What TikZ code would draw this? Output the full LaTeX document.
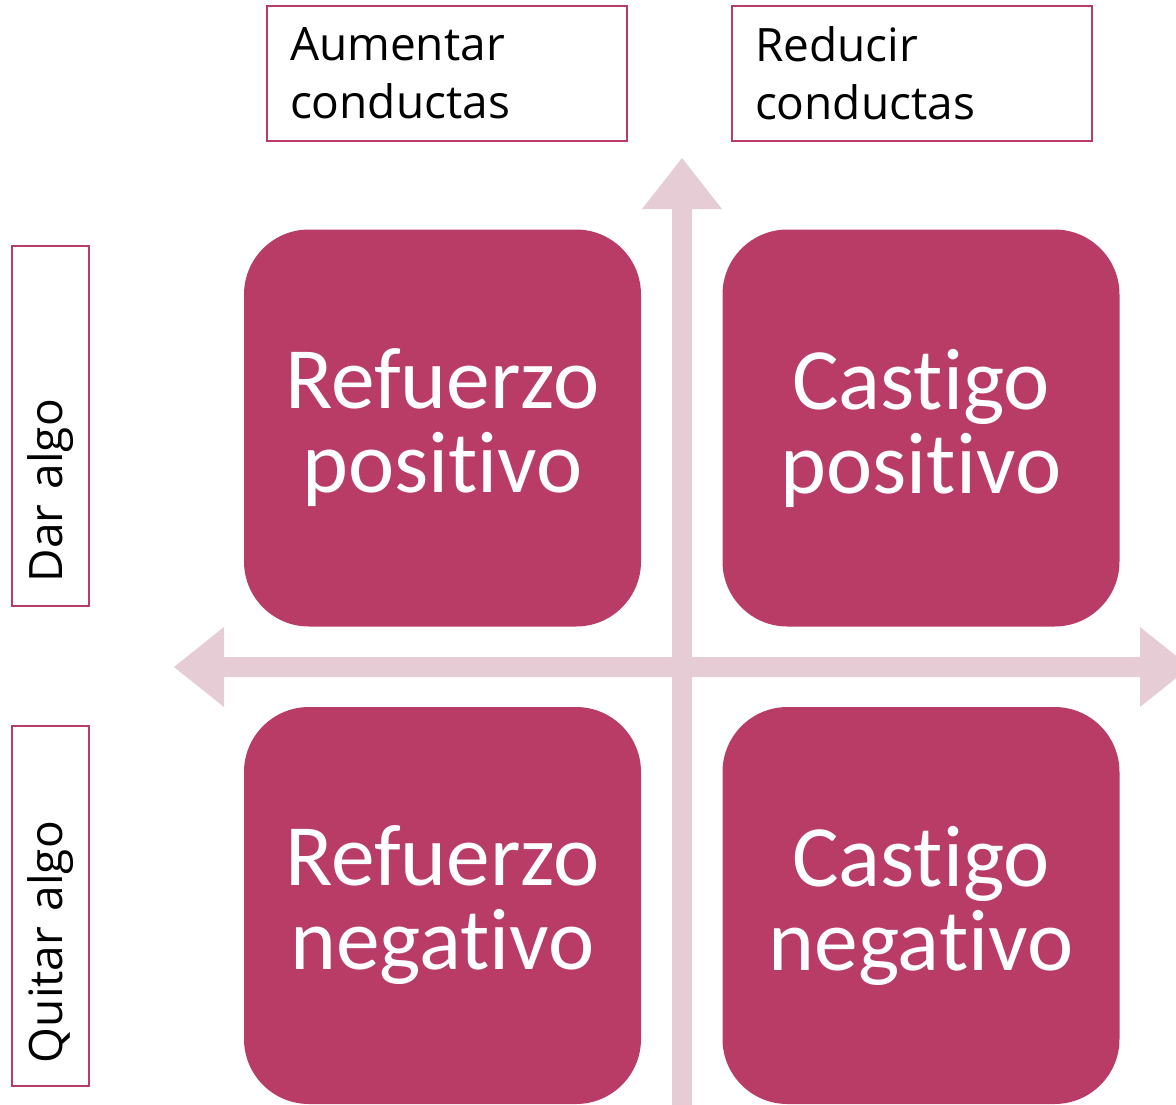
\documentclass[tikz,border=0pt]{standalone}
\usepackage{fontspec}
\setmainfont{Carlito}[RawFeature=-liga]
\newfontfamily\manofont{Open Sans}
\definecolor{rosa}{HTML}{B93C67}
\definecolor{rosaclaro}{HTML}{E6CCD4}

\tikzset{
  cuadrante/.style={fill=rosa, rounded corners=65pt, minimum width=397pt,
    minimum height=397pt, text=white, align=center,
    font=\fontsize{87.5}{84}\selectfont},
  etiqueta/.style={draw=rosa, line width=2pt, minimum width=360pt,
    minimum height=135pt, text width=314pt, align=left, inner sep=0pt,
    font=\manofont\fontsize{46}{58}\selectfont},
  lado/.style={etiqueta, rotate=90, minimum height=77pt}
}

\begin{document}
\begin{tikzpicture}[x=1pt,y=-1pt]
    \useasboundingbox (0,0) rectangle (1176,1104);

    % ejes
    \fill[rosaclaro] (174,667) -- (224,627) -- (224,657) -- (1140,657)
      -- (1140,627) -- (1190,667) -- (1140,707) -- (1140,677)
      -- (224,677) -- (224,707) -- cycle;
    \fill[rosaclaro] (682,158) -- (722,209) -- (692,209) -- (692,1110)
      -- (672,1110) -- (672,209) -- (642,209) -- cycle;

    % cuadrantes
    \node[cuadrante] (refpos) at (442.5,428) {Refuerzo\\positivo};
    \node[cuadrante] (caspos) at (921,428) {Castigo\\positivo};
    \node[cuadrante] (refneg) at (442.5,905.5) {Refuerzo\\negativo};
    \node[cuadrante] (casneg) at (921,905.5) {Castigo\\negativo};

    % etiquetas
    \node[etiqueta] (aumentar) at (447,73.5) {Aumentar\\conductas};
    \node[etiqueta] (reducir) at (912,73.5) {Reducir\\conductas};
    \node[lado] (dar) at (50.5,425.5) {Dar algo};
    \node[lado] (quitar) at (50.5,906) {Quitar algo};
\end{tikzpicture}
\end{document}
